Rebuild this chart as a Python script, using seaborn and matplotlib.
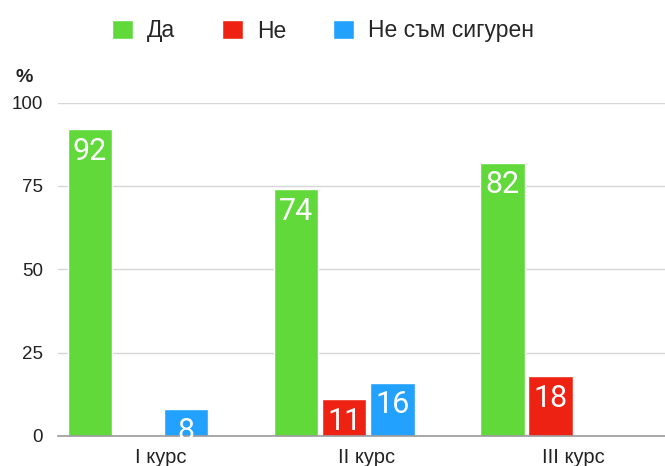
import matplotlib
matplotlib.use("Agg")
import matplotlib.pyplot as plt
import seaborn as sns
import pandas as pd

courses = ["I курс", "II курс", "III курс"]
answers = ["Да", "Не", "Не съм сигурен"]
yes_vals = [92, 74, 82]
no_vals = [0, 11, 18]
unsure_vals = [8, 16, 0]
colors = ["#62d93b", "#ee2212", "#22a1ff"]
yticks = [0, 25, 50, 75, 100]

rows = []
for i, c in enumerate(courses):
    for a, vals in zip(answers, [yes_vals, no_vals, unsure_vals]):
        rows.append({"course": c, "answer": a, "value": vals[i]})
df = pd.DataFrame(rows)

sns.set_theme(style="white")
plt.rcParams["font.family"] = ["Liberation Sans", "DejaVu Sans"]

fig = plt.figure(figsize=(6.65, 4.66), dpi=100)
ax = fig.add_axes([0.0872, 0.0644, 0.9128, 0.7156])

sns.barplot(data=df, x="course", y="value", hue="answer", order=courses,
            hue_order=answers, palette=colors, width=0.70, gap=0.08,
            saturation=1, ax=ax, legend=True)

for cont in ax.containers:
    for bar in cont:
        h = bar.get_height()
        if h > 0:
            ax.annotate(f"{int(h)}", (bar.get_x() + bar.get_width() / 2, h),
                        xytext=(0, -5.5), textcoords="offset points",
                        ha="center", va="top", color="white", fontsize=22,
                        family=["Roboto", "Liberation Sans"], fontweight="normal")

ax.set_ylim(0, 100)
ax.set_xlim(-0.388, 2.555)
ax.set_yticks(yticks)
ax.set_yticklabels([str(t) for t in yticks])
ax.set_xticks([i + 0.11 for i in range(len(courses))])
ax.set_xticklabels(courses)
ax.tick_params(axis="both", length=0, colors="#222222")
ax.tick_params(axis="y", pad=11, labelsize=13.5)
ax.tick_params(axis="x", pad=9, labelsize=14.5)
ax.set_xlabel("")
ax.set_ylabel("")
ax.yaxis.grid(True, color="#d6d6d6", linewidth=1)
ax.set_axisbelow(True)
for s in ["top", "right", "left"]:
    ax.spines[s].set_visible(False)
ax.spines["bottom"].set_color("#9a9a9a")
ax.spines["bottom"].set_linewidth(1.2)

handles, labels = ax.get_legend_handles_labels()
ax.get_legend().remove()
fig.legend(handles, labels, loc="center left", bbox_to_anchor=(112 / 665, 1 - 31 / 466),
           ncol=3, frameon=False, fontsize=16.5, handlelength=0.92, handleheight=0.92,
           handletextpad=0.6, columnspacing=2.05, borderpad=0, borderaxespad=0)

fig.text(24 / 665, 1 - 78 / 466, "%", ha="center", va="center", fontsize=14,
         fontweight="bold", color="#222222")

fig.savefig("out.png", dpi=100)
